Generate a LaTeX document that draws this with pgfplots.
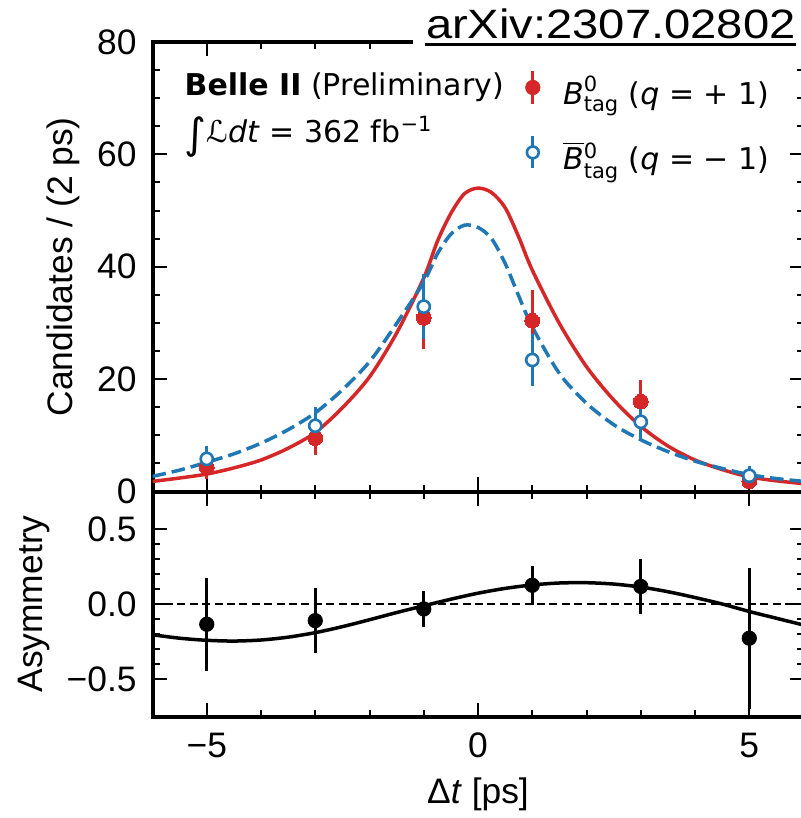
\documentclass[border=0pt]{standalone}
\usepackage{fontspec}
\usepackage{amsmath}
\usepackage{graphicx}
\usepackage{pgfplots}
\pgfplotsset{compat=1.18}
\setmainfont{Liberation Sans}
\newfontfamily\djv{DejaVu Sans}
\definecolor{tabred}{HTML}{D62728}
\definecolor{tabblue}{HTML}{1F77B4}
\newcommand\lbl{\fontsize{17.7pt}{20pt}\selectfont}
\newcommand\djvsize{\djv\fontsize{15pt}{18pt}\selectfont}

\pgfplotstableread{
x y e
-5 4.3 2.0
-3 9.5 3.0
-1 30.9 5.5
1 30.4 5.4
3 16.0 3.9
5 1.8 1.3
}\redpts
\pgfplotstableread{
x y e
-5 5.8 2.3
-3 11.7 3.3
-1 32.9 5.8
1 23.4 4.7
3 12.4 3.5
5 2.8 1.7
}\bluepts
\pgfplotstableread{
x y
-6 1.8
-5.5 2.4
-5 3.1
-4.5 4.2
-4 5.6
-3.5 7.7
-3 10.5
-2.5 14.9
-2 20.4
-1.5 28.2
-1 38.0
-0.75 44.5
-0.5 49.5
-0.25 53.0
0 54.0
0.25 53.2
0.5 50.5
0.75 45.3
1 39.4
1.5 29.9
2 22.2
2.5 16.3
3 11.6
3.5 8.1
4 5.6
4.5 3.9
5 2.6
5.5 1.9
6 1.4
}\redfit
\pgfplotstableread{
x y
-6 2.7
-5.5 3.8
-5 5.2
-4.5 6.7
-4 8.6
-3.5 11.0
-3 14.0
-2.5 18.1
-2 23.1
-1.5 29.9
-1 37.3
-0.75 42.3
-0.5 45.8
-0.25 47.4
0 47.0
0.25 45.0
0.5 40.6
0.75 34.8
1 29.3
1.5 21.0
2 15.7
2.5 11.9
3 9.2
3.5 7.1
4 5.4
4.5 4.1
5 3.0
5.5 2.3
6 1.8
}\bluefit
\pgfplotstableread{
x y e
-5 -0.135 0.31
-3 -0.111 0.215
-1 -0.033 0.122
1 0.125 0.13
3 0.117 0.183
5 -0.228 0.47
}\asympts
\pgfplotstableread{
x y
-6 -0.205
-5.5 -0.228
-5 -0.242
-4.5 -0.247
-4 -0.240
-3.5 -0.221
-3 -0.191
-2.5 -0.151
-2 -0.105
-1.5 -0.057
-1 -0.012
-0.5 0.032
0 0.072
0.5 0.104
1 0.127
1.5 0.140
2 0.142
2.5 0.133
3 0.113
3.5 0.082
4 0.043
4.5 0.0
5 -0.05
5.5 -0.095
6 -0.14
}\asymfit

\begin{document}
\begin{tikzpicture}
\pgfplotsset{
  common/.style={
    width=325.5pt, scale only axis,
    xmin=-6, xmax=6,
    tick align=inside,
    xtick pos=both, ytick pos=both,
    major tick length=7pt, minor tick length=3.5pt,
    tick style={line width=1pt, black},
    axis line style={line width=2pt},
    xtick={-5,0,5}, minor x tick num=4,
    tick label style={font=\lbl},
    yticklabel style={anchor=east, inner sep=0pt, xshift=-7.75pt},
    xticklabel style={anchor=base, inner sep=0pt, yshift=-20.25pt},
    every axis y label/.style={rotate=90, anchor=south, inner sep=0pt, font=\lbl},
  }
}
\begin{axis}[common, name=up, height=224.75pt,
  ymin=0, ymax=80, ytick={0,20,40,60,80}, yticklabels={0,20,40,60,80},
  minor y tick num=3, xticklabels={,,},
  ylabel={Candidates / (2 ps)},
  ylabel style={at={(axis description cs:-0.1114,0.5)}},
  legend style={at={(axis description cs:0.5725,0.9377)}, anchor=north west,
    draw=none, fill=none, inner sep=0pt, outer sep=0pt,
    row sep=9.2pt, column sep=11.4pt, font=\djvsize,
    nodes={inner sep=0pt, text height=12pt, text depth=6pt},
    cells={anchor=west}},
]
\addplot[tabred, line width=1.75pt, smooth, forget plot] table[x=x,y=y] {\redfit};
\addplot[tabblue, line width=1.75pt, smooth, dash pattern=on 6.8pt off 3pt, forget plot] table[x=x,y=y] {\bluefit};
\addplot[only marks, mark=*, mark size=3.7pt, tabred,
  mark options={fill=tabred, draw=tabred, line width=0pt},
  legend image code/.code={%
    \draw[tabred, line width=1.5pt] (0pt,-2.5pt) -- (0pt,13.5pt);
    \fill[tabred] (0pt,5.5pt) circle (3.6pt);},
  error bars/.cd, y dir=both, y explicit, error mark=none,
  error bar style={line width=1.5pt, tabred}]
  table[x=x, y=y, y error=e] {\redpts};
\addlegendentry{$\textit{B}^{\text{0}}_{\text{tag}}$ (\textit{q} = + 1)}
\addplot[only marks, mark=*, mark size=3.05pt, tabblue,
  mark options={fill=white, draw=tabblue, line width=1.3pt},
  legend image code/.code={%
    \draw[tabblue, line width=1.5pt] (0pt,-2.5pt) -- (0pt,13.5pt);
    \filldraw[fill=white, draw=tabblue, line width=1.3pt] (0pt,5.5pt) circle (2.95pt);},
  error bars/.cd, y dir=both, y explicit, error mark=none,
  error bar style={line width=1.5pt, tabblue}]
  table[x=x, y=y, y error=e] {\bluepts};
\addlegendentry{$\overline{\textit{B}}{}^{\text{0}}_{\text{tag}}$ (\textit{q} = − 1)}
\node[anchor=base west, inner sep=0pt, font=\djvsize] at (axis description cs:0.0488,0.882) {\textbf{Belle II} (Preliminary)};
\node[anchor=base west, inner sep=0pt, font=\djvsize] at (axis description cs:0.0488,0.7775) {\raisebox{-3pt}{\fontsize{21pt}{21pt}\selectfont ∫}ℒ\textit{dt} = 362 fb$^{\text{−1}}$};
\end{axis}
\begin{axis}[common, name=low, at={(up.south west)}, anchor=north west, height=112.5pt,
  ymin=-0.75, ymax=0.75, ytick={-0.5,0,0.5}, yticklabels={−0.5,0.0,0.5},
  minor y tick num=4, xticklabels={−5,0,5},
  ylabel={Asymmetry},
  ylabel style={at={(axis description cs:-0.1575,0.5)}},
  xlabel={Δ\textit{t} [ps]},
  xlabel style={at={(axis description cs:0.5,0)}, anchor=base, inner sep=0pt, yshift=-43.25pt, font=\lbl},
]
\addplot[black, line width=1.1pt, dash pattern=on 4pt off 2.2pt] coordinates {(-6,0) (6,0)};
\addplot[black, line width=1.75pt, smooth] table[x=x,y=y] {\asymfit};
\addplot[only marks, mark=*, mark size=3.6pt, black,
  error bars/.cd, y dir=both, y explicit, error mark=none,
  error bar style={line width=1.5pt, black}]
  table[x=x, y=y, y error=e] {\asympts};
\end{axis}
\fill[white] ([shift={(130.25pt,-9pt)}]up.north west) rectangle ([shift={(2pt,22pt)}]up.north east);
\node[anchor=base east, inner sep=0pt, font=\fontsize{20.5pt}{22pt}\selectfont] at ([shift={(-3.75pt,1.5pt)}]up.north east) {\scalebox{1.15}[1]{arXiv:2307.02802}};
\draw[line width=1.25pt] ([shift={(136.25pt,-1.25pt)}]up.north west) -- ([shift={(-3.75pt,-1.25pt)}]up.north east);
\pgfresetboundingbox
\path ([shift={(-76.25pt,21pt)}]up.north west) rectangle ([shift={(-1.75pt,-50.75pt)}]low.south east);
\end{tikzpicture}
\end{document}
